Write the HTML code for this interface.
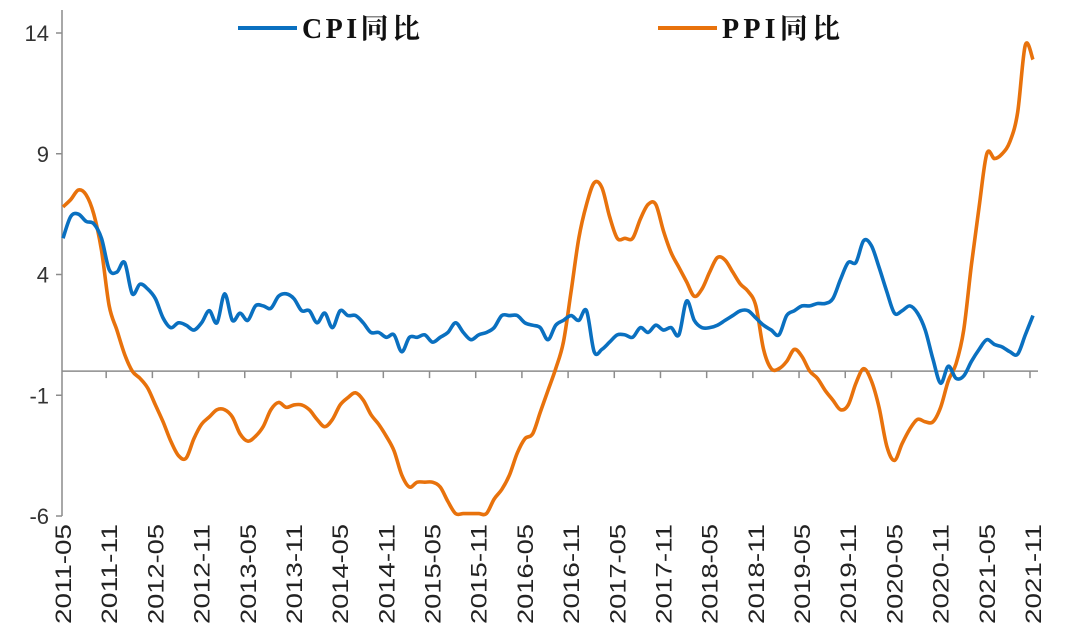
<!DOCTYPE html>
<html><head><meta charset="utf-8"><style>
body{margin:0;background:#fff;}
svg{display:block;}
</style></head><body>
<svg id="chart" width="1080" height="628" xmlns="http://www.w3.org/2000/svg" font-family="'Liberation Sans','Noto Sans CJK SC',sans-serif"></svg>
<script>
const startYear = 2011, startMonth = 5;
const cpi = [5.5,6.4,6.5,6.2,6.1,5.5,4.2,4.1,
4.5,3.2,3.6,3.4,3.0,2.2,1.8,2.0,1.9,1.7,2.0,2.5,
2.0,3.2,2.1,2.4,2.1,2.7,2.7,2.6,3.1,3.2,3.0,2.5,
2.5,2.0,2.4,1.8,2.5,2.3,2.3,2.0,1.6,1.6,1.4,1.5,
0.8,1.4,1.4,1.5,1.2,1.4,1.6,2.0,1.6,1.3,1.5,1.6,
1.8,2.3,2.3,2.3,2.0,1.9,1.8,1.3,1.9,2.1,2.3,2.1,
2.5,0.8,0.9,1.2,1.5,1.5,1.4,1.8,1.6,1.9,1.7,1.8,
1.5,2.9,2.1,1.8,1.8,1.9,2.1,2.3,2.5,2.5,2.2,1.9,
1.7,1.5,2.3,2.5,2.7,2.7,2.8,2.8,3.0,3.8,4.5,4.5,
5.4,5.2,4.3,3.3,2.4,2.5,2.7,2.4,1.7,0.5,-0.5,0.2,
-0.3,-0.2,0.4,0.9,1.3,1.1,1.0,0.8,0.7,1.5,2.3];
const ppi = [6.8,7.1,7.5,7.3,6.5,5.0,2.7,1.7,
0.7,0.0,-0.3,-0.7,-1.4,-2.1,-2.9,-3.5,-3.6,-2.8,-2.2,-1.9,
-1.6,-1.6,-1.9,-2.6,-2.9,-2.7,-2.3,-1.6,-1.3,-1.5,-1.4,-1.4,
-1.6,-2.0,-2.3,-2.0,-1.4,-1.1,-0.9,-1.2,-1.8,-2.2,-2.7,-3.3,
-4.3,-4.8,-4.6,-4.6,-4.6,-4.8,-5.4,-5.9,-5.9,-5.9,-5.9,-5.9,
-5.3,-4.9,-4.3,-3.4,-2.8,-2.6,-1.7,-0.8,0.1,1.2,3.3,5.5,
6.9,7.8,7.6,6.4,5.5,5.5,5.5,6.3,6.9,6.9,5.8,4.9,
4.3,3.7,3.1,3.4,4.1,4.7,4.6,4.1,3.6,3.3,2.7,0.9,
0.1,0.1,0.4,0.9,0.6,0.0,-0.3,-0.8,-1.2,-1.6,-1.4,-0.5,
0.1,-0.4,-1.5,-3.1,-3.7,-3.0,-2.4,-2.0,-2.1,-2.1,-1.5,-0.4,
0.3,1.7,4.4,6.8,9.0,8.8,9.0,9.5,10.7,13.5,12.9];
const yTicks = [14,9,4,-1,-6];
const seriesNames = ["CPI同比","PPI同比"];

const svg = document.getElementById('chart');
const NS = 'http://www.w3.org/2000/svg';
const X0 = 63, X1 = 1033, Y14 = 33, Ym6 = 516;
const n = cpi.length;
function xs(i){ return X0 + (X1 - X0) * i / (n - 1); }
function ys(v){ return Y14 + (14 - v) * (Ym6 - Y14) / 20; }
function mk(tag, attrs){ const e = document.createElementNS(NS, tag); for (const k in attrs) e.setAttribute(k, attrs[k]); svg.appendChild(e); return e; }

let ax = mk('line',{x1:62,y1:10,x2:62,y2:516,stroke:'#8c8c8c','stroke-width':1.5});


yTicks.forEach(v=>{
  const t = mk('line',{x1:56,y1:ys(v),x2:62,y2:ys(v),stroke:'#8c8c8c','stroke-width':1.5});
  
  
  const l = mk('text',{x:49,y:ys(v)+8,'text-anchor':'end','font-size':22,fill:'#333'});
  l.textContent = v;
  
  
});
let zl = mk('line',{x1:62,y1:ys(0),x2:1038,y2:ys(0),stroke:'#8c8c8c','stroke-width':1.5});


for (let i = 0; i < n; i += 6){
  const ym = startYear + Math.floor((startMonth - 1 + i) / 12);
  const mo = (startMonth - 1 + i) % 12 + 1;
  const label = ym + '-' + (mo < 10 ? '0' + mo : mo);
  if (i > 0){
    const t = mk('line',{x1:xs(i)-3,y1:ys(0),x2:xs(i)-3,y2:ys(0)+7,stroke:'#8c8c8c','stroke-width':1.5});
    
    
  }
  const tx = xs(i) + 8, ty = 524;
  const l = mk('text',{x:tx,y:ty,'text-anchor':'end','font-size':22,fill:'#222',textLength:100,lengthAdjust:'spacingAndGlyphs',transform:`rotate(-90 ${tx} ${ty})`});
  l.textContent = label;
  
  
}
function smoothPath(arr){
  const p = arr.map((v,i)=>[xs(i),ys(v)]);
  let d = `M${p[0][0]},${p[0][1]}`;
  for (let i=0;i<p.length-1;i++){
    const p0=p[Math.max(i-1,0)], p1=p[i], p2=p[i+1], p3=p[Math.min(i+2,p.length-1)];
    const c1=[p1[0]+(p2[0]-p0[0])/6, p1[1]+(p2[1]-p0[1])/6];
    const c2=[p2[0]-(p3[0]-p1[0])/6, p2[1]-(p3[1]-p1[1])/6];
    d += ` C${c1[0]},${c1[1]} ${c2[0]},${c2[1]} ${p2[0]},${p2[1]}`;
  }
  return d;
}
const ppiLine = mk('path',{d:smoothPath(ppi),fill:'none',stroke:'#e8720c','stroke-width':3.6,'stroke-linejoin':'round'});


const cpiLine = mk('path',{d:smoothPath(cpi),fill:'none',stroke:'#0a70c0','stroke-width':3.6,'stroke-linejoin':'round'});



[[238,'#0a70c0',seriesNames[0],'legend-cpi'],[658,'#e8720c',seriesNames[1],'legend-ppi']].forEach(([x,c,txt,nm])=>{
  const g = mk('g',{});
  
  
  const l = document.createElementNS(NS,'line');
  l.setAttribute('x1',x);l.setAttribute('y1',28);l.setAttribute('x2',x+59);l.setAttribute('y2',28);
  l.setAttribute('stroke',c);l.setAttribute('stroke-width',4);
  
  
  g.appendChild(l);
  const t = document.createElementNS(NS,'text');
  t.setAttribute('x',x+64);t.setAttribute('y',38);t.setAttribute('font-size',28);t.setAttribute('font-weight','bold');
  t.setAttribute('font-family',"'Liberation Serif','Noto Serif CJK SC',serif");
  t.setAttribute('textLength',118);t.setAttribute('lengthAdjust','spacing');
  t.setAttribute('fill','#111');
  t.textContent = txt;
  
  
  g.appendChild(t);
});
</script>
</body></html>
